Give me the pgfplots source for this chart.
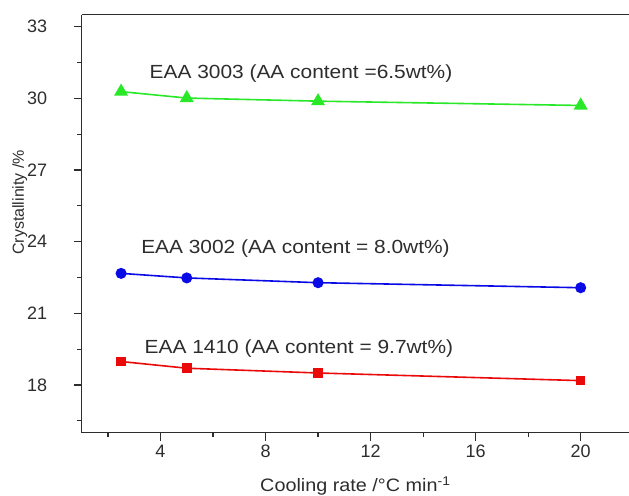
\documentclass[border=0pt]{standalone}
\usepackage{fontspec}
\setmainfont{Liberation Sans}
\newfontfamily\annfont[FakeStretch=1.1]{Liberation Sans}
\usepackage{pgfplots}
\pgfplotsset{compat=1.18}
\definecolor{axgray}{RGB}{45,45,45}
\definecolor{lgreen}{RGB}{40,232,40}
\definecolor{lblue}{RGB}{10,10,230}
\definecolor{lred}{RGB}{235,10,10}
\begin{document}
\begin{tikzpicture}
\begin{axis}[
  scale only axis, width=547.3bp, height=418bp,
  xmin=1, xmax=21.84, ymin=16, ymax=33.5,
  axis x line=box, axis y line=left,
  x axis line style={-}, y axis line style={-},
  axis line style={axgray, line width=1.4bp},
  xtick pos=bottom, ytick pos=left,
  tick align=outside,
  xtick={4,8,12,16,20}, minor xtick={2,6,10,14,18},
  ytick={18,21,24,27,30,33}, minor ytick={16.5,19.5,22.5,25.5,28.5,31.5},
  major tick length=8bp, minor tick length=4.5bp,
  every tick/.style={axgray, line width=1.2bp},
  tick label style={font=\fontsize{18bp}{20bp}\selectfont, text=axgray},
  /pgf/number format/assume math mode=true,
  yticklabel style={anchor=east, xshift=-23bp},
  xticklabel style={yshift=-1bp},
  xlabel={\annfont\fontsize{18bp}{20bp}\selectfont Cooling rate /°C min\textsuperscript{-1}},
  xlabel style={at={(axis description cs:0.5,0)}, anchor=base, yshift=-59bp, text=axgray},
  ylabel={\fontsize{16bp}{18bp}\selectfont Crystallinity /\%},
  ylabel style={at={(axis description cs:-0.113,0.551)}, anchor=center, text=axgray},
  clip=false,
]
\addplot[lgreen, line width=1.6bp, mark=triangle*, mark size=6.5bp, mark options={solid}] coordinates {
  (2.5,30.28) (5,30.01) (10,29.88) (20,29.70)};
\addplot[lblue, line width=1.6bp, mark=*, mark size=4.7bp] coordinates {
  (2.5,22.67) (5,22.48) (10,22.28) (20,22.07)};
\addplot[lred, line width=1.6bp, mark=square*, mark size=4bp] coordinates {
  (2.5,18.98) (5,18.70) (10,18.50) (20,18.18)};
\node[anchor=west, inner sep=0pt, text=axgray] at (axis cs:3.58,31.04) {\annfont\fontsize{19bp}{21bp}\selectfont EAA 3003 (AA content =6.5wt\%)};
\node[anchor=west, inner sep=0pt, text=axgray] at (axis cs:3.26,23.72) {\annfont\fontsize{19bp}{21bp}\selectfont EAA 3002 (AA content = 8.0wt\%)};
\node[anchor=west, inner sep=0pt, text=axgray] at (axis cs:3.39,19.52) {\annfont\fontsize{19bp}{21bp}\selectfont EAA 1410 (AA content = 9.7wt\%)};
\end{axis}
\pgfresetboundingbox
\path ([shift={(-81.7bp,-63.3bp)}]current axis.south west) rectangle ([shift={(0bp,14.7bp)}]current axis.north east);
\end{tikzpicture}
\end{document}
